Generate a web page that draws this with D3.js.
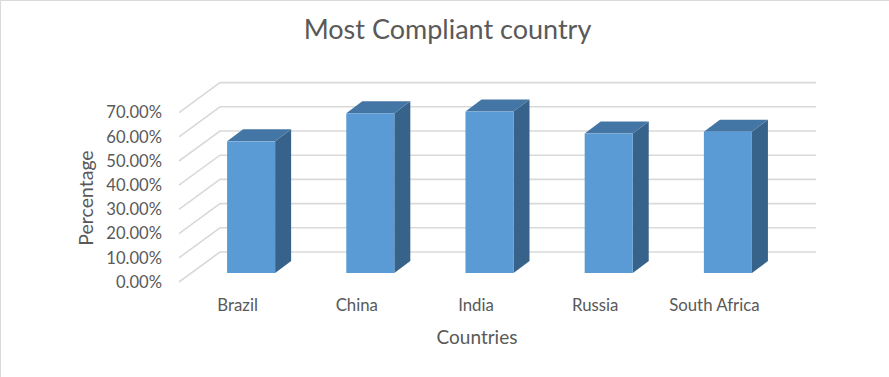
<!DOCTYPE html>
<html>
<head>
<meta charset="utf-8">
<script src="https://cdn.jsdelivr.net/npm/d3@7"></script>
<style>
  html, body { margin: 0; padding: 0; background: #fff; }
  svg { display: block; font-family: Lato, "Open Sans", sans-serif; }
</style>
</head>
<body>
<div id="chart"></div>
<script>
const countries = ["Brazil", "China", "India", "Russia", "South Africa"];
const compliance = [0.544, 0.66, 0.667, 0.576, 0.584];
const yTicks = [0, 0.1, 0.2, 0.3, 0.4, 0.5, 0.6, 0.7];

const width = 889;
const height = 377;

// 3d box: floor runs back by floorDx/floorDy, bars sit in the middle of it
const floorDx = 41, floorDy = -30;
const barDx = 16, barDy = -12;
const barOffX = 12.5, barOffY = -9;

const svg = d3.select("#chart")
    .append("svg")
    .attr("width", width)
    .attr("height", height);

// thin frame on top and left only
svg.append("path")
    .attr("d", `M0.5,${height} V0.5 H${width}`)
    .attr("fill", "none")
    .attr("stroke", "#d9d9d9");

const x = d3.scaleBand()
    .domain(countries)
    .range([179, 775])
    .paddingInner(0.597)
    .paddingOuter(0.2985);

const y = d3.scaleLinear()
    .domain([0, 0.7])
    .range([282, 112.6]);

// Gridlines
const grid = svg.append("g")
    .attr("fill", "none")
    .attr("stroke", "#d9d9d9")
    .attr("stroke-width", 1.6);

grid.selectAll("polyline")
    .data(yTicks)
    .enter()
    .append("polyline")
    .attr("points", d => [
        [x.range()[0], y(d)],
        [x.range()[0] + floorDx, y(d) + floorDy],
        [x.range()[1] + floorDx, y(d) + floorDy]
    ].join(" "));

// Bars
const bars = svg.selectAll(".bar")
    .data(countries.map((c, i) => ({ country: c, value: compliance[i] })))
    .enter()
    .append("g")
    .attr("class", "bar")
    .attr("transform", `translate(${barOffX},${barOffY})`);

// side face
bars.append("path")
    .attr("fill", "#376289")
    .attr("d", d => {
        const x1 = x(d.country) + x.bandwidth();
        return `M${x1},${y(0)} L${x1 + barDx},${y(0) + barDy} L${x1 + barDx},${y(d.value) + barDy} L${x1},${y(d.value)} Z`;
    });

// top face
bars.append("path")
    .attr("fill", "#4476a5")
    .attr("d", d => {
        const x0 = x(d.country);
        const x1 = x0 + x.bandwidth();
        const t = y(d.value);
        return `M${x0},${t} L${x0 + barDx},${t + barDy} L${x1 + barDx},${t + barDy} L${x1},${t} Z`;
    });

// front face
bars.append("rect")
    .attr("x", d => x(d.country))
    .attr("y", d => y(d.value))
    .attr("width", x.bandwidth())
    .attr("height", d => y(0) - y(d.value))
    .attr("fill", "#5b9bd5");

// Axes
const yAxis = d3.axisLeft(y)
    .tickValues(yTicks)
    .tickSize(0)
    .tickPadding(17)
    .tickFormat(d3.format(".2%"));

const yAxisG = svg.append("g")
    .attr("transform", "translate(179,0)")
    .call(yAxis);
yAxisG.select(".domain").remove();
yAxisG.selectAll("text")
    .attr("fill", "#595959")
    .style("font-size", "16.6px")
    .style("font-family", "Lato, sans-serif");

const xAxis = d3.axisBottom(x)
    .tickSize(0)
    .tickPadding(0);

const xAxisG = svg.append("g")
    .attr("transform", "translate(-1,299.5)")
    .call(xAxis);
xAxisG.select(".domain").remove();
xAxisG.selectAll("text")
    .attr("fill", "#595959")
    .style("font-size", "16.8px")
    .style("font-family", "Lato, sans-serif");

// Titles
svg.append("text")
    .attr("x", 447.5)
    .attr("y", 39)
    .attr("text-anchor", "middle")
    .attr("fill", "#595959")
    .style("font-size", "27px")
    .text("Most Compliant country");

svg.append("text")
    .attr("x", 477)
    .attr("y", 344)
    .attr("text-anchor", "middle")
    .attr("fill", "#595959")
    .style("font-size", "19px")
    .text("Countries");

svg.append("text")
    .attr("transform", "translate(93,198) rotate(-90)")
    .attr("text-anchor", "middle")
    .attr("fill", "#595959")
    .style("font-size", "19.5px")
    .text("Percentage");
</script>
</body>
</html>
